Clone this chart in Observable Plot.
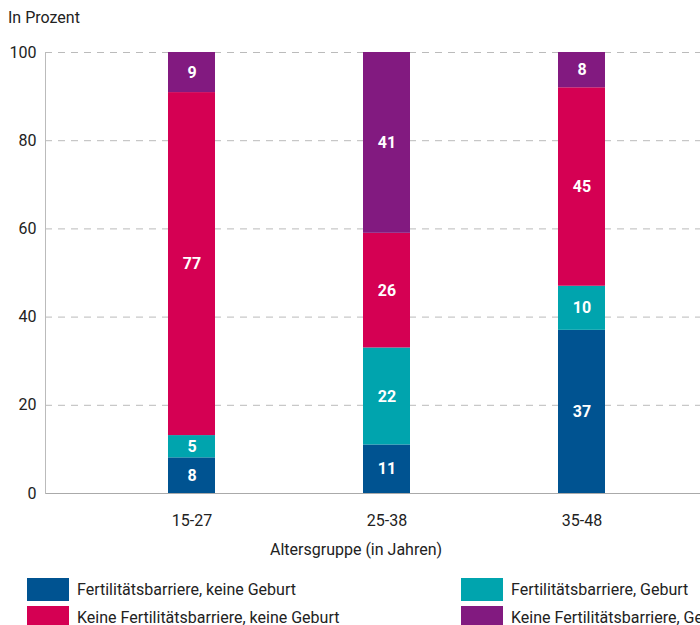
<!DOCTYPE html>
<html><head><meta charset="utf-8">
<script src="https://cdn.jsdelivr.net/npm/d3@7"></script>
<script src="https://cdn.jsdelivr.net/npm/@observablehq/plot@0.6"></script>
<style>
html,body{margin:0;padding:0;background:#fff;overflow:hidden;width:700px;height:625px;font-family:Roboto,"Noto Sans",sans-serif;color:#222}
#wrap{position:relative;width:700px;height:625px;overflow:hidden}
#chart{position:absolute;left:0;top:0}
#chart svg{max-width:none}
.t{position:absolute;font-size:16px;white-space:nowrap;line-height:16px}
.sw{position:absolute;width:42px;height:23px}
</style></head>
<body><div id="wrap">
<div id="chart"></div>
<div class="t" style="left:8px;top:10px">In Prozent</div>
<div class="t" style="left:270px;top:542px">Altersgruppe (in Jahren)</div>
<div id="legend"></div>
</div>
<script>
const groups = ["15-27", "25-38", "35-48"];
const series = [
  "Fertilitätsbarriere, keine Geburt",
  "Fertilitätsbarriere, Geburt",
  "Keine Fertilitätsbarriere, keine Geburt",
  "Keine Fertilitätsbarriere, Geburt"
];
const colors = ["#005391", "#00a4ae", "#d50053", "#821a80"];
const values = [
  [8, 11, 37],
  [5, 22, 10],
  [77, 26, 45],
  [9, 41, 8]
];
const yTicks = [0, 20, 40, 60, 80, 100];

const data = [];
series.forEach((s, i) => groups.forEach((g, j) => data.push({group: g, series: s, value: values[i][j]})));

const stackOpts = {x: "group", y: "value", fill: "series", offset: "normalize", order: series};
const chart = Plot.plot({
  width: 740, height: 530,
  marginLeft: 45, marginRight: 13, marginTop: 52, marginBottom: 37,
  style: {fontFamily: "Roboto, 'Noto Sans', sans-serif", fontSize: "16px", color: "#222", maxWidth: "none"},
  x: {domain: groups, paddingInner: 0.76, paddingOuter: 0.62, label: null, tickSize: 0, tickPadding: 21},
  y: {domain: [0, 100], percent: true, ticks: yTicks, tickFormat: d => String(d), label: null, tickSize: 0, tickPadding: 9},
  color: {domain: series, range: colors},
  marks: [
    Plot.gridY(yTicks.filter(d => d > 0).map(d => d / 100), {stroke: "#bbb", strokeOpacity: 1, strokeDasharray: "7,6"}),
    Plot.barY(data, stackOpts),
    Plot.text(data, Plot.stackY({...stackOpts, z: "series", text: d => d.value, fill: "white", fontWeight: "bold", fontSize: 16})),
    Plot.ruleY([0], {stroke: "#aaa"}),
    Plot.frame({anchor: "left", stroke: "#bbb"})
  ]
});
document.getElementById("chart").appendChild(chart);

const leg = document.getElementById("legend");
const pos = [[27, 578], [461, 578], [27, 606], [461, 606]];
series.forEach((s, i) => {
  const [x, y] = pos[i];
  const sw = document.createElement("div");
  sw.className = "sw"; sw.style.left = x + "px"; sw.style.top = y + "px"; sw.style.background = colors[i];
  leg.appendChild(sw);
  const t = document.createElement("div");
  t.className = "t"; t.style.left = (x + 50) + "px"; t.style.top = (y + 4) + "px"; t.textContent = s;
  leg.appendChild(t);
});
</script>
</body></html>
